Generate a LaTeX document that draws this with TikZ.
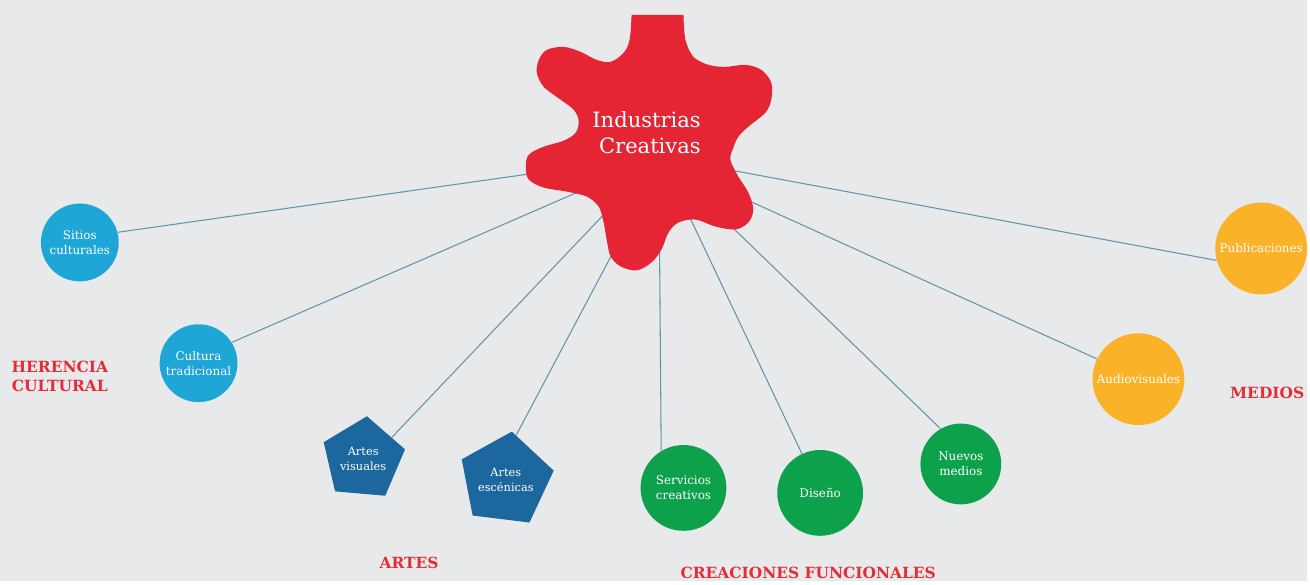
\documentclass[tikz,border=0pt]{standalone}
\usepackage{fontspec}
\setmainfont{DejaVu Serif}
\usepackage{xcolor}
\usepackage{tikz}
\usetikzlibrary{shapes.geometric}

\definecolor{bgcol}{RGB}{232,233,234}
\definecolor{blobred}{RGB}{229,36,52}
\definecolor{labred}{RGB}{228,45,55}
\definecolor{herblue}{RGB}{29,166,214}
\definecolor{artblue}{RGB}{28,104,158}
\definecolor{funcgreen}{RGB}{14,161,76}
\definecolor{medyellow}{RGB}{250,178,40}
\definecolor{linecol}{RGB}{96,150,172}

\begin{document}
\begin{tikzpicture}[x=0.02cm,y=-0.02cm,
  bubble/.style={circle,inner sep=0pt,text=white,align=center,font=\fontsize{6.8}{8.5}\selectfont},
  penta/.style={regular polygon,regular polygon sides=5,inner sep=0pt,minimum size=1.72cm,
    fill=artblue,text=white,align=center,font=\fontsize{6.5}{8.5}\selectfont},
  link/.style={linecol,line width=0.6pt},
  group/.style={text=labred,align=center,font=\bfseries\fontsize{8.8}{11}\selectfont}]
  \fill[bgcol] (0,0) rectangle (1310,582);

  % herencia cultural
  \node[bubble,fill=herblue,minimum size=1.56cm] (sitios) at (80,243) {Sitios\\culturales};
  \node[bubble,fill=herblue,minimum size=1.56cm] (cultura) at (199,364) {Cultura\\tradicional};
  % artes
  \node[penta,shape border rotate=-5] (visuales) at (364,460) {Artes\\visuales};
  \node[penta,shape border rotate=-7] (escenicas) at (507,481) {Artes\\escénicas};
  % creaciones funcionales
  \node[bubble,fill=funcgreen,minimum size=1.72cm] (servicios) at (685,489) {Servicios\\creativos};
  \node[bubble,fill=funcgreen,minimum size=1.72cm] (diseno) at (822,494) {Diseño};
  \node[bubble,fill=funcgreen,minimum size=1.62cm] (nuevos) at (963,465) {Nuevos\\medios};
  % medios
  \node[bubble,fill=medyellow,minimum size=1.84cm] (audio) at (1141,380) {Audiovisuales};
  \node[bubble,fill=medyellow,minimum size=1.84cm] (publi) at (1264,249) {Publicaciones};

  \node[group] (herencia) at (60,377) {HERENCIA\\CULTURAL};
  \node[group] (artes) at (410,564) {ARTES};
  \node[group] (creaciones) at (810,574) {CREACIONES FUNCIONALES};
  \node[group] (medios) at (1270,394) {MEDIOS};

  \coordinate (b1) at (540,173);
  \coordinate (b2) at (585,190);
  \coordinate (b3) at (608,212);
  \coordinate (b4) at (616,250);
  \coordinate (b5) at (661,245);
  \coordinate (b6) at (690,215);
  \coordinate (b7) at (730,224);
  \coordinate (b8) at (748,200);
  \coordinate (b9) at (730,170);
  \draw[link] (b1) -- (sitios.15);
  \draw[link] (b2) -- (cultura.32);
  \draw[link] (b3) -- (visuales.37);
  \draw[link] (b4) -- (escenicas.77);
  \draw[link] (b5) -- (servicios.121);
  \draw[link] (b6) -- (diseno.115);
  \draw[link] (b7) -- (nuevos.120);
  \draw[link] (b8) -- (audio.154);
  \draw[link] (b9) -- (publi.195);

  % the red blob
  \fill[blobred] plot[smooth,tension=0.55] coordinates {
    (633,15) (631,40) (625,53) (612,62) (598,60) (582,52) (565,47) (548,50) (540,60)
    (538,73) (545,87) (562,100) (575,110) (580,121) (577,133) (565,141) (545,147)
    (530,155) (527,167) (530,180) (545,188) (568,192) (588,197) (600,207) (605,223)
    (608,240) (612,257) (622,267) (638,271) (653,263) (663,250) (670,233) (680,223)
    (697,220) (717,227) (737,230) (750,223) (755,210) (750,193) (740,177) (732,160)
    (735,148) (740,137) (750,127) (767,113) (773,100) (773,83) (763,70) (747,65)
    (727,67) (710,65) (695,57) (687,40) (685,15)} -- cycle;
  \node[text=white,align=right,font=\fontsize{12}{15}\selectfont] (ic) at (648,133) {Industrias\\Creativas};
\end{tikzpicture}
\end{document}
